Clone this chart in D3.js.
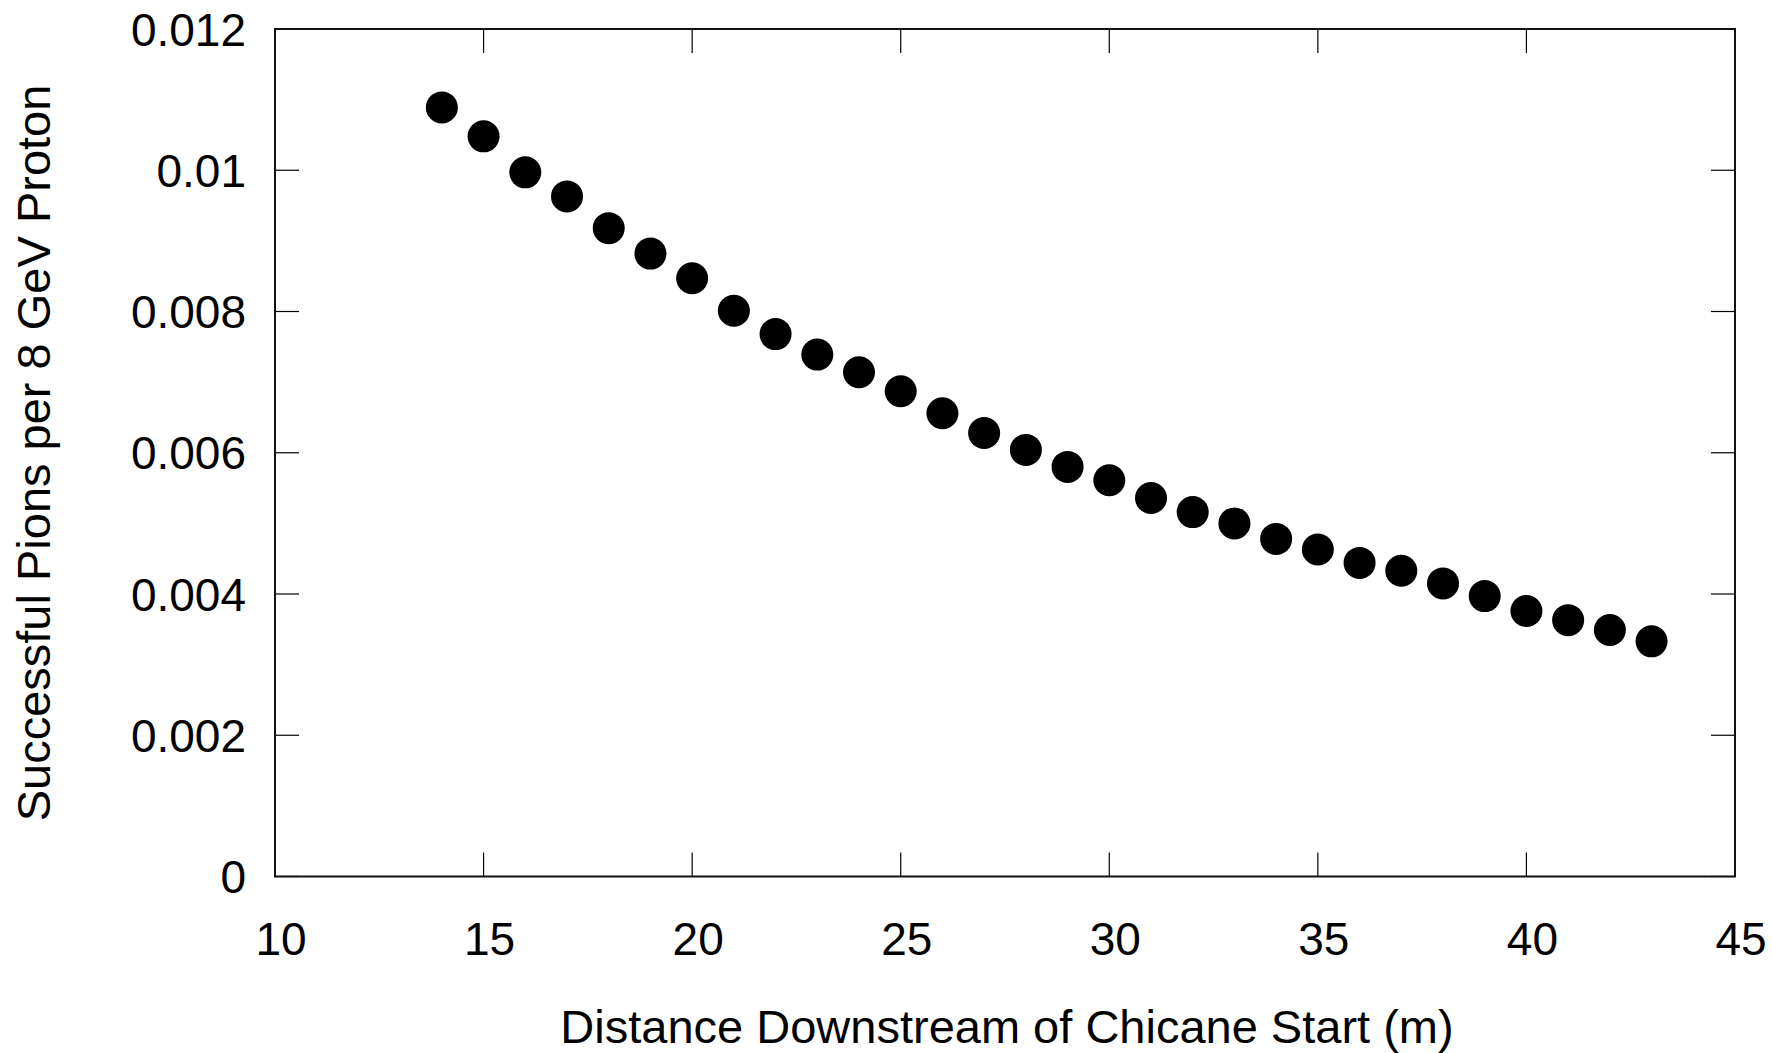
<!DOCTYPE html>
<html lang="en">
<head>
    <meta charset="utf-8">
    <title>Successful Pions vs Distance</title>
    <script src="https://cdnjs.cloudflare.com/ajax/libs/d3/7.8.5/d3.min.js"></script>
    <style>
        body { margin: 0; background: #fff; }
        svg text { font-family: "Liberation Sans", Arial, sans-serif; fill: #000; }
    </style>
</head>
<body>
    <svg id="chart"></svg>

    <script>
        // data
        const distances = [14, 15, 16, 17, 18, 19, 20, 21, 22, 23, 24, 25, 26, 27, 28,
                           29, 30, 31, 32, 33, 34, 35, 36, 37, 38, 39, 40, 41, 42, 43];
        const pions = [0.01089, 0.01048, 0.00997, 0.00963, 0.00918, 0.00882, 0.00847, 0.00801,
                       0.00768, 0.00739, 0.00714, 0.00687, 0.00656, 0.00628, 0.00604, 0.00580,
                       0.00561, 0.00536, 0.00516, 0.00500, 0.00478, 0.00463, 0.00444, 0.00433,
                       0.00415, 0.00397, 0.00376, 0.00363, 0.00349, 0.00333];
        const xTicks = [10, 15, 20, 25, 30, 35, 40, 45];
        const yTicks = [0, 0.002, 0.004, 0.006, 0.008, 0.01, 0.012];

        const width = 1772;
        const height = 1053;
        const margin = { top: 29, right: 37, bottom: 176.5, left: 275 };
        const fontSize = 46;
        const tickLen = 24;

        const svg = d3.select('#chart')
            .attr('width', width)
            .attr('height', height);

        const x = d3.scaleLinear()
            .domain([10, 45])
            .range([margin.left, width - margin.right]);

        const y = d3.scaleLinear()
            .domain([0, 0.012])
            .range([height - margin.bottom, margin.top]);

        const plotBottom = height - margin.bottom;
        const plotRight = width - margin.right;

        // inward ticks on all four sides
        const ticks = svg.append('g').attr('stroke', '#000').attr('stroke-width', 1.2);
        xTicks.forEach(t => {
            ticks.append('line')
                .attr('x1', x(t)).attr('x2', x(t))
                .attr('y1', plotBottom).attr('y2', plotBottom - tickLen);
            ticks.append('line')
                .attr('x1', x(t)).attr('x2', x(t))
                .attr('y1', margin.top).attr('y2', margin.top + tickLen);
        });
        yTicks.forEach(t => {
            ticks.append('line')
                .attr('x1', margin.left).attr('x2', margin.left + tickLen)
                .attr('y1', y(t)).attr('y2', y(t));
            ticks.append('line')
                .attr('x1', plotRight).attr('x2', plotRight - tickLen)
                .attr('y1', y(t)).attr('y2', y(t));
        });

        // frame
        svg.append('rect')
            .attr('x', margin.left)
            .attr('y', margin.top)
            .attr('width', plotRight - margin.left)
            .attr('height', plotBottom - margin.top)
            .attr('fill', 'none')
            .attr('stroke', '#111')
            .attr('stroke-width', 2);

        // tick labels
        svg.append('g').selectAll('text')
            .data(xTicks)
            .enter().append('text')
            .attr('x', d => x(d) + 6)
            .attr('y', 955)
            .attr('text-anchor', 'middle')
            .style('font-size', fontSize + 'px')
            .text(d => d);

        svg.append('g').selectAll('text')
            .data(yTicks)
            .enter().append('text')
            .attr('x', 246)
            .attr('y', d => y(d))
            .attr('dy', '0.36em')
            .attr('text-anchor', 'end')
            .style('font-size', fontSize + 'px')
            .text(d => d === 0 ? '0' : String(+d.toFixed(3)));

        // axis titles
        svg.append('text')
            .attr('x', (margin.left + plotRight) / 2 + 2)
            .attr('y', 1043)
            .attr('text-anchor', 'middle')
            .style('font-size', '47px')
            .text('Distance Downstream of Chicane Start (m)');

        svg.append('text')
            .attr('transform', 'translate(50,453) rotate(-90)')
            .attr('text-anchor', 'middle')
            .style('font-size', '47px')
            .text('Successful Pions per 8 GeV Proton');

        // points
        svg.append('g').selectAll('circle')
            .data(distances.map((d, i) => ({ d, v: pions[i] })))
            .enter().append('circle')
            .attr('cx', p => x(p.d))
            .attr('cy', p => y(p.v))
            .attr('r', 16)
            .attr('fill', '#000');
    </script>
</body>
</html>
